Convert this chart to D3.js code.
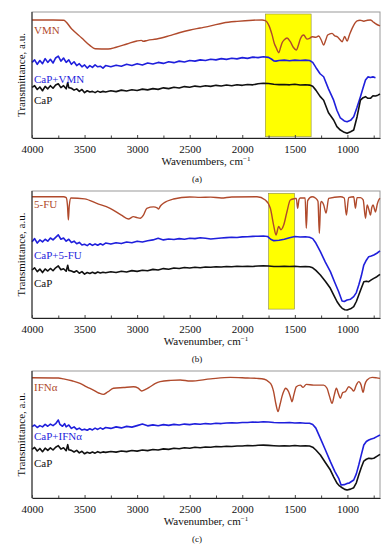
<!DOCTYPE html>
<html>
<head>
<meta charset="utf-8">
<script src="https://cdn.jsdelivr.net/npm/d3@7"></script>
<style>
  body { margin: 0; background: #fff; }
  svg text { font-family: "Liberation Serif", "Times New Roman", serif; }
</style>
</head>
<body>
<svg id="chart" width="392" height="550"></svg>
<script>
// ---- data (wavenumber, transmittance a.u.) ----
const xTicks = [4000, 3500, 3000, 2500, 2000, 1500, 1000];
const xMinor = [3750, 3250, 2750, 2250, 1750, 1250, 750];

const vmn = [[4000,93.7],[3800,93.7],[3700,93.5],[3622,86.5],[3527,79.4],[3450,73.5],[3400,70.8],[3276,70.6],[3200,72],[3098,74.6],[3003,77],[2960,77.5],[2940,76.8],[2900,77.5],[2813,78.6],[2700,81],[2600,83.5],[2495,85.7],[2400,87.3],[2300,89],[2181,91.3],[2050,92.6],[1900,93.5],[1812,93.7],[1781,93.2],[1745,89],[1717,82],[1695,75],[1676,71.4],[1654,67.7],[1635,72],[1622,75.4],[1600,78],[1574,79.4],[1543,76.4],[1515,72],[1486,69.8],[1465,74],[1448,78.6],[1416,81.7],[1384,78.5],[1360,79],[1336,80.4],[1300,80],[1273,81],[1250,78],[1226,73.8],[1205,78],[1188,81.7],[1146,83],[1120,81],[1098,80.4],[1070,78],[1050,76.4],[1026,80.5],[1003,77],[980,82],[955,87],[930,91],[908,93],[880,93.5],[844,92.7],[810,93.5],[781,93.7],[760,92.5],[733,90.8],[690,88.9]];

const capVmn = [[4000,60],[3975,62],[3950,58.5],[3925,61.5],[3900,59],[3875,63],[3850,60],[3825,62.5],[3800,59.5],[3775,63.5],[3750,65],[3725,61],[3700,63.5],[3675,60],[3650,62],[3625,58.5],[3600,60.5],[3575,57.5],[3550,59],[3525,56.5],[3500,58],[3475,55.5],[3450,57.5],[3425,56],[3400,58],[3375,56.5],[3350,57],[3325,55.5],[3300,57.5],[3250,56.5],[3200,57.8],[3150,57],[3100,58.5],[3050,57.5],[3000,59],[2950,58],[2900,59.5],[2850,58.7],[2800,60],[2750,59.2],[2700,60.5],[2650,59.8],[2600,61],[2550,60.3],[2500,61.5],[2450,61],[2400,62],[2350,61.5],[2300,62.5],[2250,62],[2200,63],[2150,62.4],[2100,63.3],[2050,62.8],[2000,63.8],[1950,63.2],[1900,64.2],[1850,63.8],[1800,64.5],[1750,64],[1720,62.5],[1700,61.2],[1680,61],[1650,61.5],[1600,61.8],[1550,61.3],[1500,61.8],[1450,61.5],[1400,61.8],[1360,61.5],[1330,60],[1300,56],[1260,51],[1226,48.6],[1180,39],[1131,30],[1100,22],[1067,15.9],[1030,13.5],[1003,12.9],[970,14],[940,16.9],[910,24],[876,32.8],[850,40],[828,46],[805,48.5],[781,48],[757,48.5],[733,47.9]];

const capA = [[4000,40.2],[3975,41.5],[3950,38.5],[3925,40.5],[3900,37.5],[3875,41],[3850,39],[3825,41.5],[3800,39.5],[3775,42],[3750,43],[3725,40],[3700,41.5],[3675,39],[3660,44],[3650,40],[3625,39.5],[3600,38],[3575,39],[3550,37],[3525,38.5],[3500,36],[3475,37.5],[3450,36.5],[3425,37],[3400,36],[3375,37.2],[3350,36.3],[3325,37],[3300,36.5],[3250,37.5],[3200,36.8],[3150,38],[3100,37.3],[3050,38.3],[3000,37.7],[2950,38.8],[2900,38.2],[2850,39.2],[2800,38.6],[2750,39.8],[2700,39.2],[2650,40.3],[2600,39.7],[2550,40.8],[2500,40.3],[2450,41.2],[2400,40.7],[2350,41.5],[2300,41],[2250,41.8],[2200,41.3],[2150,42],[2100,41.5],[2050,42.3],[2000,41.8],[1950,42.5],[1900,42.2],[1850,43],[1800,43.4],[1750,43.2],[1700,42.6],[1650,42.4],[1600,42.5],[1550,42.2],[1500,42.6],[1450,42.1],[1400,42.3],[1360,42],[1330,41],[1300,38],[1260,33],[1226,30],[1180,20],[1131,14.3],[1100,9],[1067,6.3],[1030,4.5],[1003,3.7],[970,5],[940,6.3],[908,16.9],[876,30],[850,32],[828,32.8],[805,31.5],[781,31.5],[757,33.5],[733,33.3],[710,34],[690,34.9]];

const fu = [[4000,95.5],[3700,95.5],[3675,94.8],[3662,88],[3654,77.2],[3646,88],[3630,94.5],[3500,93.8],[3384,90.3],[3257,86.4],[3150,81],[3083,78],[3035,79.8],[3000,79],[2971,78.5],[2940,81],[2908,86.4],[2844,87.5],[2810,86.8],[2797,85.8],[2780,88],[2750,90.3],[2654,93.7],[2500,95.3],[2400,95],[2300,95.2],[2200,94.5],[2100,95.3],[1860,95.5],[1781,92.9],[1733,86.4],[1702,73.2],[1679,65.4],[1654,72],[1632,69.5],[1606,73.2],[1575,83.7],[1543,92.9],[1500,94],[1486,94.2],[1473,86.4],[1460,93.5],[1448,94.5],[1402,94.5],[1391,70.6],[1378,92.5],[1336,95.5],[1305,94.5],[1280,92],[1267,66.7],[1255,90],[1248,91.8],[1226,89.2],[1203,82.6],[1178,94.2],[1067,95.5],[1030,94.5],[1010,81],[988,94.8],[940,95.5],[924,86.4],[908,94.8],[876,94.8],[850,93],[828,78.5],[812,89],[795,85],[781,81],[768,87],[756,89],[740,85],[733,83.5],[715,90],[702,92.9],[690,94.2]];

const capFu = [[4000,60],[3975,62.5],[3950,59],[3925,61.5],[3900,60],[3875,62],[3850,60.5],[3825,63],[3800,61.5],[3775,63.5],[3750,65.5],[3725,62],[3700,63],[3675,60.5],[3650,62],[3625,59.5],[3600,60.5],[3575,58.5],[3550,59.5],[3525,57.5],[3500,58],[3475,57],[3450,58.5],[3425,57.2],[3400,58.3],[3375,57.3],[3350,58.5],[3325,57.5],[3300,59],[3250,58.2],[3200,59.3],[3150,58.6],[3100,59.8],[3050,59.2],[3000,60.5],[2950,59.8],[2900,60.8],[2850,61.5],[2800,62.8],[2750,61.5],[2700,62.2],[2650,61.8],[2600,62.5],[2550,62],[2500,62.8],[2450,62.5],[2400,63.2],[2350,62.8],[2300,62.2],[2250,62.6],[2200,63],[2150,63.3],[2100,63.6],[2050,63.4],[2000,63.9],[1950,64],[1900,64.3],[1850,64.4],[1800,64.6],[1760,64.2],[1730,62],[1700,60.9],[1650,61.2],[1600,62],[1550,63.2],[1500,64.2],[1450,63.8],[1400,64],[1360,63.6],[1330,62.5],[1300,59],[1257,52.2],[1210,44],[1162,36.5],[1120,28],[1083,20.7],[1051,13.4],[1030,13],[1003,14.2],[970,14.8],[940,16.8],[915,20],[892,26],[868,33],[844,41.7],[820,45.5],[797,48.3],[773,48.8],[749,49.6],[720,51],[690,52.8]];

const capB = [[4000,37.8],[3975,39.5],[3950,36.5],[3925,38.5],[3900,35.8],[3875,38.6],[3850,37],[3825,39],[3800,37.2],[3775,39.5],[3750,41],[3725,38],[3700,38.8],[3675,36.8],[3660,41.5],[3650,37.5],[3625,37],[3600,36],[3575,37.2],[3550,35.2],[3525,36.5],[3500,34.5],[3475,35.8],[3450,35],[3425,36],[3400,35],[3375,36.2],[3350,35.4],[3325,36],[3300,35.6],[3250,36.4],[3200,35.8],[3150,36.8],[3100,36.2],[3050,37.3],[3000,36.7],[2950,37.6],[2900,37.2],[2850,38.3],[2800,37.8],[2750,38.9],[2700,38.4],[2650,39.4],[2600,39],[2550,39.8],[2500,39.4],[2450,40],[2400,39.6],[2350,40.2],[2300,39.9],[2250,40.4],[2200,40.1],[2150,40.6],[2100,40.3],[2050,40.7],[2000,40.5],[1950,40.8],[1900,40.6],[1850,41],[1800,41.2],[1750,41],[1700,40.6],[1650,40.5],[1600,40.8],[1550,40.5],[1500,40.8],[1450,40.4],[1400,40.6],[1360,40.3],[1330,39.5],[1300,37.5],[1257,33.9],[1210,29],[1162,23.4],[1130,18],[1098,12.8],[1070,9.5],[1050,7.6],[1025,6.5],[1003,6.3],[970,7.2],[940,8.9],[915,13],[892,18.1],[868,23.5],[844,28.6],[820,29],[797,28.6],[773,30],[749,31.2],[720,32.5],[690,34.4]];

const ifn = [[4000,94.7],[3750,94.5],[3700,93.8],[3620,92.3],[3543,90.3],[3480,87.5],[3416,85],[3360,82.5],[3321,81.6],[3280,83.5],[3225,86.4],[3130,87],[3035,87.6],[2990,86.5],[2956,84.3],[2920,85.5],[2876,87.6],[2830,90],[2781,91.6],[2680,92.6],[2590,92.9],[2495,92.1],[2300,93.8],[2114,95],[1950,94.5],[1860,94.2],[1790,93.5],[1750,91.6],[1720,88.5],[1702,83.7],[1680,74],[1660,68],[1640,74],[1622,80],[1600,85],[1590,86.4],[1559,83.7],[1540,79],[1527,75.8],[1510,81],[1486,87.6],[1448,88.9],[1422,87.1],[1391,89.5],[1321,88.9],[1226,88.9],[1194,86.4],[1170,80],[1146,74.5],[1125,81],[1105,86.4],[1085,82],[1067,78.5],[1045,83],[1019,83.7],[987,87.6],[960,86],[940,84.3],[915,89],[892,91.6],[870,89],[851,83.2],[835,89],[813,92.9],[765,95],[720,94.6],[690,94.2]];

const capIfn = [[4000,56.2],[3975,57.5],[3950,55.5],[3925,57],[3900,56],[3875,58],[3850,56.5],[3825,58.2],[3800,57],[3775,58.5],[3750,61.4],[3735,58],[3710,56.5],[3690,58.5],[3675,56],[3650,57.5],[3625,54.8],[3600,56],[3575,54],[3550,55],[3525,53.5],[3500,54.2],[3475,53.3],[3450,54.5],[3425,53.6],[3400,55],[3375,54],[3350,55.2],[3325,54.2],[3300,55.5],[3250,54.8],[3200,56],[3150,55.2],[3100,56.4],[3050,55.8],[3000,57],[2950,58.2],[2900,56.8],[2850,57.6],[2800,56.9],[2750,57.8],[2700,57.2],[2650,58],[2600,57.5],[2550,58.2],[2500,57.8],[2450,58.4],[2400,58.1],[2350,58.6],[2300,58.3],[2250,58.8],[2200,58.6],[2150,59.1],[2100,59.3],[2050,59.1],[2000,59.5],[1950,59.4],[1900,59.8],[1850,59.6],[1800,60],[1750,59.8],[1700,59.4],[1650,59.2],[1600,59.3],[1550,59.4],[1500,59],[1450,59.3],[1400,58.9],[1360,58.8],[1330,57.8],[1300,55],[1257,47],[1210,38],[1162,28.6],[1120,21],[1083,15.5],[1060,10.2],[1030,10.5],[1003,11.5],[987,11.6],[965,12.8],[940,14.2],[915,19],[892,26],[868,34],[844,41.7],[820,44.5],[797,45.7],[773,46.5],[749,47],[720,48.3],[690,49.6]];

const capC = [[4000,38.3],[3975,39.8],[3950,37],[3925,39],[3900,36.5],[3875,39.2],[3850,37.5],[3825,39.5],[3800,37.8],[3775,40],[3750,41.2],[3725,38.5],[3700,39.5],[3675,37.2],[3660,42],[3650,38],[3625,37.5],[3600,36.2],[3575,37.5],[3550,35.5],[3525,36.8],[3500,34.8],[3475,36],[3450,35.2],[3425,36.2],[3400,35.3],[3375,36.5],[3350,35.6],[3325,36.3],[3300,35.9],[3250,36.6],[3200,36.1],[3150,37],[3100,36.5],[3050,37.4],[3000,36.9],[2950,37.8],[2900,37.3],[2850,38.2],[2800,37.8],[2750,38.7],[2700,38.3],[2650,39.2],[2600,38.8],[2550,39.6],[2500,39.2],[2450,39.9],[2400,39.6],[2350,40.2],[2300,40],[2250,40.5],[2200,40.3],[2150,40.8],[2100,40.6],[2050,41],[2000,40.9],[1950,41.3],[1900,41.1],[1850,41.5],[1800,41.6],[1750,41.4],[1700,41.2],[1650,41],[1600,41.2],[1550,41],[1500,41.3],[1450,41],[1400,41.1],[1360,40.9],[1330,40],[1300,37.8],[1257,33.9],[1210,28],[1162,22],[1130,16.5],[1098,11.6],[1075,9.5],[1050,8.1],[1025,6.8],[1003,6.3],[970,7],[940,8.1],[915,12],[892,18.1],[868,24],[844,29.1],[820,30.5],[797,31.3],[773,31],[749,31.3],[720,32.8],[690,34.4]];

const seriesNames = [["VMN","CaP+VMN","CaP"],["5-FU","CaP+5-FU","CaP"],["IFN\u03b1","CaP+IFN\u03b1","CaP"]];
const bands = [[1781,1345,98.4,1],[1750,1502,98.2,7],null];   // wn from, wn to, top, bottom
const xTitles = ["Wavenumbers, cm","Wavenumber, cm","Wavenumber, cm"];
const captions = ["(a)","(b)","(c)"];

// ---- layout ----
const colors = ["#b04a2c", "#1f1fdc", "#111111"];
const left = 32, right = 380;
const panels = [
  { top: 12,  bottom: 138, series: [vmn, capVmn, capA], labelY: [30, 79, 100] },
  { top: 191, bottom: 318, series: [fu, capFu, capB],   labelY: [204, 255, 283] },
  { top: 371, bottom: 498, series: [ifn, capIfn, capC], labelY: [387, 436, 463] }
];

const svg = d3.select("#chart");
const x = d3.scaleLinear().domain([4000, 690]).range([left, right]);

panels.forEach((p, i) => {
  const y = d3.scaleLinear().domain([0, 100]).range([p.bottom, p.top]);
  const g = svg.append("g").attr("id", "panel" + i);

  // highlight band
  if (bands[i]) {
    const b = bands[i];
    g.append("rect")
      .attr("x", x(b[0])).attr("width", x(b[1]) - x(b[0]))
      .attr("y", y(b[2])).attr("height", y(b[3]) - y(b[2]))
      .attr("fill", "#ffff00").attr("stroke", "#8a8a50").attr("stroke-width", 0.6);
  }

  // frame (top/right grey)
  g.append("rect")
    .attr("x", left).attr("y", p.top)
    .attr("width", right - left).attr("height", p.bottom - p.top)
    .attr("fill", "none").attr("stroke", "#9a9a9a").attr("stroke-width", 1);

  // lines
  p.series.forEach((s, k) => {
    const line = d3.line()
      .x(d => x(d[0])).y(d => y(d[1]))
      .curve(k === 0 ? d3.curveMonotoneX : d3.curveLinear);
    g.append("path").datum(s)
      .attr("d", line)
      .attr("fill", "none")
      .attr("stroke", colors[k])
      .attr("stroke-width", k === 0 ? 1.4 : 1.6)
      .attr("stroke-linejoin", "round");
  });

  // left axis line
  g.append("line")
    .attr("x1", left).attr("x2", left).attr("y1", p.top).attr("y2", p.bottom)
    .attr("stroke", "#222").attr("stroke-width", 1);

  // bottom axis
  const ax = g.append("g").attr("transform", `translate(0,${p.bottom})`);
  ax.call(d3.axisBottom(x).tickValues(xMinor).tickSize(-2.5).tickFormat(""))
    .call(a => a.select(".domain").remove());
  const ax2 = g.append("g").attr("transform", `translate(0,${p.bottom})`);
  ax2.call(d3.axisBottom(x).tickValues(xTicks).tickSizeInner(-3).tickSizeOuter(0).tickPadding(7).tickFormat(d3.format("d")))
    .call(a => a.select(".domain").attr("stroke", "#222"))
    .call(a => a.selectAll("text").attr("font-size", 11).attr("fill", "#111")
      .attr("font-family", "'Liberation Serif', serif"));
  ax.selectAll("line").attr("stroke", "#444");
  ax2.selectAll("line").attr("stroke", "#444");

  // y axis title
  g.append("text")
    .attr("transform", `translate(25,${(p.top + p.bottom) / 2}) rotate(-90)`)
    .attr("text-anchor", "middle")
    .attr("font-size", 11)
    .attr("fill", "#111")
    .text("Transmittance, a.u.");

  // x axis title
  const t = g.append("text")
    .attr("x", (left + right) / 2).attr("y", p.bottom + 27)
    .attr("text-anchor", "middle")
    .attr("font-size", 11)
    .attr("fill", "#111")
    .text(xTitles[i]);
  t.append("tspan").attr("font-size", 7).attr("dy", -4).text("\u22121");

  // caption
  g.append("text")
    .attr("x", 197).attr("y", p.bottom + 44)
    .attr("text-anchor", "middle")
    .attr("font-size", 9)
    .attr("fill", "#111")
    .text(captions[i]);

  // series labels
  seriesNames[i].forEach((name, k) => {
    g.append("text")
      .attr("x", 34).attr("y", p.labelY[k])
      .attr("dy", "0.35em")
      .attr("font-size", 11)
      .attr("fill", colors[k])
      .text(name);
  });
});
</script>
</body>
</html>
